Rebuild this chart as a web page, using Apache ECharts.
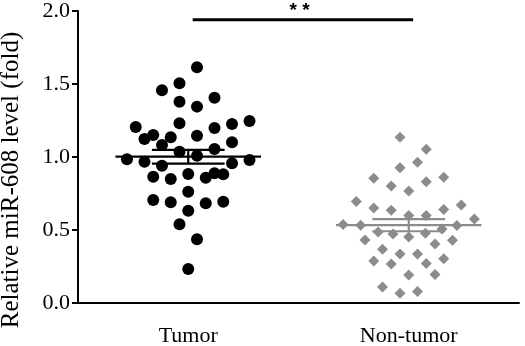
<!DOCTYPE html>
<html>
<head>
<meta charset="utf-8">
<script src="https://cdn.jsdelivr.net/npm/echarts@6/dist/echarts.min.js"></script>
<style>
  html, body { margin: 0; padding: 0; background: #fff; }
  #chart { width: 525px; height: 346px; }
</style>
</head>
<body>
<div id="chart"></div>
<script>
// Groups shown on the x axis
const categories = ['Tumor', 'Non-tumor'];

// Relative miR-608 expression (fold), one value per sample
const tumorValues = [
  1.614, 1.505, 1.457, 1.379, 1.345, 1.406, 1.205, 1.231, 1.199, 1.226,
  1.247, 1.123, 1.151, 1.135, 1.146, 1.101, 1.082, 1.036, 1.055, 1.009,
  0.984, 0.968, 0.940, 0.957, 0.979, 0.865, 0.849, 0.884, 0.858, 0.888,
  0.881, 0.762, 0.705, 0.690, 0.632, 0.683, 0.694, 0.539, 0.436, 0.233
];
// Scatter column of each tumor sample (dot-plot spreading)
const tumorColumns = [
  1, -1, -3, -1, 1, 3, -6, -1, 3, 5,
  7, -5, -4, -2, 1, 5, -3, -1, 3, 1,
  -7, -5, -3, 5, 7, -4, -2, 0, 2, 3,
  4, 0, -4, -2, 0, 2, 4, -1, 1, 0
];

const nonTumorValues = [
  1.135, 1.053, 0.964, 0.927, 0.854, 0.801, 0.767, 0.831, 0.861, 0.695,
  0.651, 0.635, 0.599, 0.599, 0.640, 0.671, 0.538, 0.532, 0.575, 0.531,
  0.486, 0.473, 0.452, 0.477, 0.507, 0.432, 0.429, 0.404, 0.368, 0.336,
  0.336, 0.288, 0.267, 0.271, 0.303, 0.192, 0.195, 0.110, 0.066, 0.079
];
const nonTumorColumns = [
  -1, 2, 1, -1, -4, -2, 0, 2, 4, -6,
  -4, -2, 0, 2, 4, 6, -7.5, -5.5, 7.5, 5.5,
  -3.5, -1.8, 0, 1.9, 3.8, -5, 5, 3, -3, -1,
  1, -4, -2, 2, 4, 0, 3, -3, -1, 1
];

const significanceLabel = '* *';

// Layout of the dot plot, in category units along the hidden value axis
const COLUMN_STEP = 0.0397;
const MEAN_HALF = 0.33;
const SEM_HALF = 0.165;
const BRACKET = { from: 0.02, to: 1.02, y: 1.94, labelX: 0.505, labelY: 2.0 };

function meanSem(arr) {
  const n = arr.length;
  const m = arr.reduce((a, b) => a + b, 0) / n;
  const sd = Math.sqrt(arr.reduce((a, b) => a + (b - m) * (b - m), 0) / (n - 1));
  return [m, sd / Math.sqrt(n)];
}

const tumorStats = meanSem(tumorValues);
const nonTumorStats = meanSem(nonTumorValues);
const groupColors = ['#000000', '#8c8c8c'];

const serif = 'Liberation Serif';

const chart = echarts.init(document.getElementById('chart'));
chart.setOption({
  animation: false,
  backgroundColor: '#ffffff',
  grid: { left: 78, right: 6, top: 11, bottom: 43, outerBoundsMode: 'none', containLabel: false },
  xAxis: [
    {
      type: 'category',
      data: categories,
      boundaryGap: true,
      axisLine: { onZero: false, lineStyle: { color: '#000', width: 2 } },
      axisTick: { alignWithLabel: true, length: 6, lineStyle: { color: '#000', width: 2 } },
      axisLabel: { color: '#000', fontFamily: serif, fontSize: 22, margin: 22 },
      splitLine: { show: false }
    },
    {
      type: 'value',
      min: -0.5,
      max: 1.5,
      show: false
    }
  ],
  yAxis: {
    type: 'value',
    min: 0,
    max: 2,
    interval: 0.5,
    name: 'Relative miR-608 level (fold)',
    nameLocation: 'middle',
    nameGap: 54,
    nameTextStyle: { color: '#000', fontFamily: serif, fontSize: 25, padding: [0, 46, 0, 0] },
    axisLine: { show: true, onZero: false, lineStyle: { color: '#000', width: 2 } },
    axisTick: { show: true, length: 6, lineStyle: { color: '#000', width: 2 } },
    axisLabel: { color: '#000', fontFamily: serif, fontSize: 22, margin: 8, formatter: v => v.toFixed(1) },
    splitLine: { show: false }
  },
  series: [
    {
      name: 'Tumor',
      type: 'scatter',
      xAxisIndex: 1,
      symbol: 'circle',
      symbolSize: 12,
      itemStyle: { color: groupColors[0], opacity: 1 },
      data: tumorValues.map((v, i) => [tumorColumns[i] * COLUMN_STEP, v])
    },
    {
      name: 'Non-tumor',
      type: 'scatter',
      xAxisIndex: 1,
      symbol: 'diamond',
      symbolSize: 11,
      itemStyle: { color: groupColors[1], opacity: 1 },
      data: nonTumorValues.map((v, i) => [1 + nonTumorColumns[i] * COLUMN_STEP, v])
    },
    {
      // mean line with SEM whiskers for each group
      type: 'custom',
      xAxisIndex: 1,
      clip: false,
      data: [
        [0, tumorStats[0], tumorStats[1], 0],
        [1, nonTumorStats[0], nonTumorStats[1], 1]
      ],
      renderItem: function (params, api) {
        const c = api.value(0), m = api.value(1), s = api.value(2);
        const color = groupColors[api.value(3)];
        const pt = (x, y) => api.coord([x, y]);
        const seg = (a, b) => ({
          type: 'line',
          shape: { x1: a[0], y1: a[1], x2: b[0], y2: b[1] },
          style: { stroke: color, lineWidth: 2.2 }
        });
        return {
          type: 'group',
          children: [
            seg(pt(c - MEAN_HALF, m), pt(c + MEAN_HALF, m)),
            seg(pt(c - SEM_HALF, m + s), pt(c + SEM_HALF, m + s)),
            seg(pt(c - SEM_HALF, m - s), pt(c + SEM_HALF, m - s)),
            seg(pt(c, m - s), pt(c, m + s))
          ]
        };
      },
      z: 5
    },
    {
      // significance bracket and stars
      type: 'custom',
      xAxisIndex: 1,
      clip: false,
      data: [[BRACKET.from, BRACKET.to, BRACKET.y]],
      renderItem: function (params, api) {
        const a = api.coord([api.value(0), api.value(2)]);
        const b = api.coord([api.value(1), api.value(2)]);
        const t = api.coord([BRACKET.labelX, BRACKET.labelY]);
        return {
          type: 'group',
          children: [
            {
              type: 'line',
              shape: { x1: a[0], y1: a[1], x2: b[0], y2: b[1] },
              style: { stroke: '#000', lineWidth: 3 }
            },
            {
              type: 'text',
              x: t[0],
              y: t[1],
              style: {
                text: significanceLabel,
                fill: '#000',
                font: 'bold 19px "Liberation Sans"',
                align: 'center',
                verticalAlign: 'middle'
              }
            }
          ]
        };
      },
      z: 5
    }
  ]
});
</script>
</body>
</html>
